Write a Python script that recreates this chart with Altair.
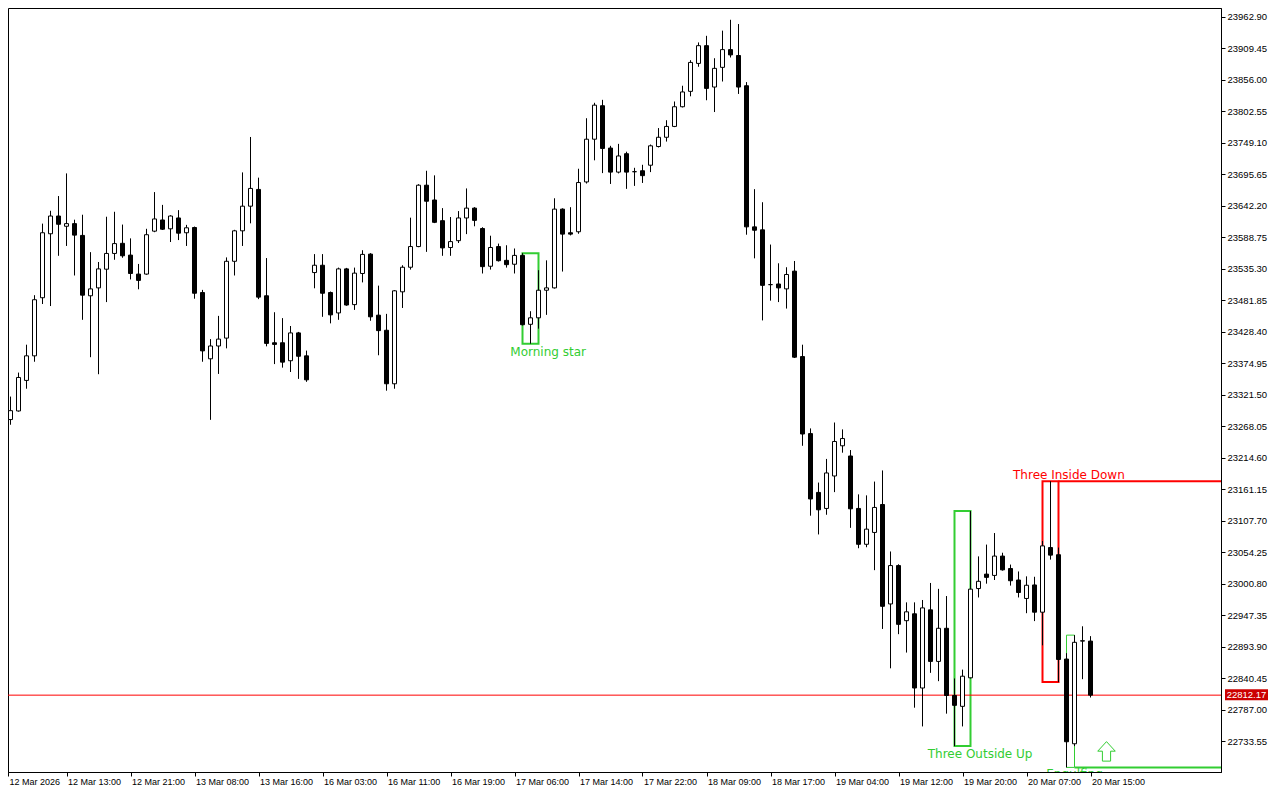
import altair as alt
import pandas as pd

# ---------------- data (hourly candles) ----------------
open_ = [23290.9, 23279.7, 23294.3, 23346.1, 23387.8, 23486.4, 23594.9, 23625.0, 23607.6, 23612.1,
         23592.1, 23489.7, 23503.1, 23534.8, 23561.5, 23578.7, 23558.7, 23526.5, 23526.5, 23599.3,
         23618.3, 23603.3, 23621.7, 23596.6, 23605.5, 23495.2, 23382.8, 23404.5, 23417.9, 23548.2,
         23599.9, 23641.7, 23670.1, 23489.7, 23410.0, 23410.0, 23379.5, 23426.7, 23387.8, 23529.1,
         23541.5, 23495.2, 23460.6, 23535.3, 23474.7, 23527.5, 23560.4, 23456.8, 23431.2, 23340.4,
         23496.4, 23538.1, 23573.2, 23677.3, 23652.2, 23617.1, 23571.6, 23583.2, 23621.7, 23638.4,
         23603.8, 23539.8, 23573.2, 23549.8, 23543.2, 23558.2, 23441.3, 23452.3, 23499.1, 23503.1,
         23636.7, 23596.6, 23598.3, 23682.8, 23755.3, 23812.1, 23740.3, 23699.5, 23730.7, 23700.2,
         23701.8, 23711.2, 23742.9, 23758.6, 23777.0, 23810.4, 23836.5, 23883.9, 23914.0, 23843.8,
         23877.2, 23907.3, 23897.3, 23846.0, 23606.6, 23601.6, 23508.6, 23509.7, 23501.4, 23531.5,
         23386.6, 23255.9, 23156.1, 23128.9, 23184.0, 23235.2, 23217.9, 23128.9, 23068.1, 23088.2,
         23135.6, 22966.9, 23032.0, 22938.5, 22950.2, 22824.3, 22956.9, 22869.4, 22925.6, 22811.6,
         22793.2, 22841.6, 22993.0, 23017.5, 23015.3, 23048.1, 23027.0, 23007.5, 22976.2, 22999.1,
         22952.9, 23062.6, 23050.4, 22873.4, 22729.7, 22903.9, 22903.9]
high_ = [23296.5, 23318.7, 23359.4, 23406.7, 23490.7, 23612.1, 23633.9, 23658.9, 23697.3, 23618.8,
         23627.2, 23563.7, 23547.0, 23623.8, 23632.2, 23610.5, 23587.1, 23543.7, 23603.3, 23665.6,
         23643.9, 23626.3, 23635.0, 23610.0, 23607.1, 23499.7, 23416.2, 23455.6, 23554.8, 23601.6,
         23699.0, 23759.1, 23690.1, 23553.7, 23461.8, 23451.8, 23438.4, 23428.4, 23396.7, 23560.4,
         23560.4, 23496.9, 23537.5, 23537.0, 23537.5, 23567.0, 23562.0, 23506.9, 23459.0, 23499.4,
         23541.5, 23622.2, 23679.0, 23701.8, 23694.0, 23638.4, 23623.3, 23633.4, 23671.8, 23640.0,
         23606.0, 23591.6, 23578.2, 23575.4, 23569.9, 23562.0, 23463.5, 23533.1, 23549.8, 23655.1,
         23638.0, 23640.0, 23705.2, 23790.9, 23817.1, 23822.1, 23744.1, 23747.4, 23734.1, 23706.8,
         23711.9, 23746.3, 23774.2, 23787.5, 23819.3, 23846.0, 23889.4, 23919.5, 23930.7, 23892.7,
         23939.5, 23957.9, 23950.7, 23852.2, 23670.6, 23648.4, 23576.6, 23544.8, 23538.1, 23548.7,
         23406.7, 23264.7, 23172.8, 23212.9, 23274.7, 23263.0, 23228.0, 23152.8, 23151.1, 23174.5,
         23193.4, 23055.9, 23034.2, 22969.6, 22969.6, 22973.6, 23002.5, 22992.5, 22980.3, 22840.5,
         22855.5, 23124.4, 23047.6, 23067.6, 23087.2, 23053.8, 23033.7, 23022.0, 23013.7, 23013.0,
         23073.8, 23175.0, 23062.6, 22883.4, 22914.0, 22929.0, 22912.3]
low_ = [23271.4, 23270.9, 23293.1, 23332.0, 23377.8, 23475.7, 23472.3, 23557.5, 23574.2, 23524.1,
        23448.9, 23385.5, 23356.6, 23479.0, 23550.8, 23554.2, 23517.4, 23500.7, 23525.3, 23597.6,
        23601.3, 23580.9, 23584.2, 23574.2, 23484.7, 23377.8, 23279.2, 23357.1, 23400.5, 23524.1,
        23574.2, 23612.6, 23484.0, 23403.9, 23373.8, 23367.8, 23360.4, 23348.7, 23343.7, 23502.4,
        23454.0, 23442.9, 23448.9, 23472.7, 23465.7, 23512.4, 23447.3, 23388.8, 23328.7, 23332.0,
        23469.0, 23534.1, 23572.1, 23564.2, 23613.0, 23557.5, 23557.5, 23579.2, 23594.3, 23607.6,
        23527.5, 23534.1, 23547.8, 23537.5, 23527.5, 23439.3, 23408.4, 23433.9, 23457.3, 23501.9,
        23530.8, 23592.1, 23594.9, 23680.1, 23719.5, 23697.8, 23679.4, 23697.3, 23671.1, 23676.1,
        23681.1, 23699.5, 23741.3, 23751.3, 23775.8, 23809.2, 23828.1, 23878.2, 23821.4, 23801.4,
        23853.2, 23893.9, 23832.1, 23593.3, 23553.2, 23447.9, 23481.4, 23479.0, 23468.0, 23384.1,
        23235.2, 23116.6, 23084.8, 23118.2, 23156.6, 23223.5, 23096.0, 23061.4, 23063.1, 23024.2,
        22924.5, 22857.7, 22915.6, 22884.4, 22790.9, 22759.1, 22850.0, 22835.9, 22780.8, 22725.7,
        22759.1, 22840.5, 22977.9, 23001.3, 23007.5, 23023.4, 22998.0, 22977.9, 22951.2, 22937.8,
        22896.7, 23042.1, 22834.3, 22689.6, 22725.7, 22839.3, 22808.2]
close_ = [23280.9, 23294.8, 23351.1, 23387.8, 23483.0, 23596.6, 23625.0, 23611.0, 23612.1, 23592.6,
          23490.7, 23501.4, 23535.3, 23561.5, 23578.2, 23557.5, 23527.5, 23515.8, 23593.3, 23620.0,
          23602.6, 23625.0, 23595.9, 23605.0, 23494.0, 23396.2, 23404.5, 23416.2, 23548.2, 23599.9,
          23641.7, 23671.8, 23487.4, 23408.9, 23407.2, 23377.1, 23426.7, 23387.1, 23347.1, 23541.5,
          23494.0, 23457.3, 23535.3, 23474.0, 23528.1, 23559.9, 23454.0, 23430.6, 23340.4, 23498.1,
          23538.1, 23573.2, 23677.3, 23650.1, 23614.3, 23570.9, 23581.6, 23621.7, 23638.4, 23617.6,
          23539.1, 23571.6, 23549.2, 23542.5, 23558.2, 23440.6, 23452.3, 23499.1, 23503.1, 23636.7,
          23594.3, 23594.3, 23681.8, 23755.3, 23813.1, 23739.6, 23699.5, 23726.9, 23699.5, 23700.2,
          23693.5, 23744.1, 23758.6, 23777.0, 23810.4, 23835.5, 23885.6, 23914.0, 23841.5, 23875.5,
          23907.3, 23898.3, 23843.8, 23606.6, 23600.9, 23507.4, 23508.6, 23503.1, 23525.8, 23385.5,
          23255.2, 23145.0, 23126.6, 23189.1, 23242.5, 23247.5, 23128.3, 23068.1, 23093.8, 23130.6,
          22962.9, 23032.0, 22932.3, 22953.5, 22824.3, 22960.2, 22869.4, 22925.6, 22811.6, 22794.9,
          22844.3, 22992.0, 23005.3, 23012.0, 23048.1, 23024.7, 23006.3, 22986.3, 22998.6, 22952.9,
          23065.4, 23049.7, 22872.7, 22733.1, 22901.8, 22904.5, 22812.17]
bar_index = list(range(len(open_)))

x_tick_idx = [0.6875, 8, 16, 24, 32, 40, 48, 56, 64, 72, 80, 88, 96, 104, 112, 120, 128, 136]
x_tick_labels = ["12 Mar 2026", "12 Mar 13:00", "12 Mar 21:00", "13 Mar 08:00", "13 Mar 16:00",
                 "16 Mar 03:00", "16 Mar 11:00", "16 Mar 19:00", "17 Mar 06:00", "17 Mar 14:00",
                 "17 Mar 22:00", "18 Mar 09:00", "18 Mar 17:00", "19 Mar 04:00", "19 Mar 12:00",
                 "19 Mar 20:00", "20 Mar 07:00", "20 Mar 15:00"]
y_ticks = [22733.55, 22787.00, 22840.45, 22893.90, 22947.35, 23000.80, 23054.25, 23107.70,
           23161.15, 23214.60, 23268.05, 23321.50, 23374.95, 23428.40, 23481.85, 23535.30,
           23588.75, 23642.20, 23695.65, 23749.10, 23802.55, 23856.00, 23909.45, 23962.90]
last_price = 22812.17

# candlestick patterns: box from start to end bar, top/bottom price
pat_name = ["Morning star", "Three Outside Up", "Three Inside Down", "Engulfing"]
pat_start = [65, 119, 130, 133]
pat_end = [67, 121, 132, 134]
pat_top = [23562.0, 23124.4, 23175.0, 22914.0]
pat_bottom = [23408.4, 22725.7, 22834.3, 22689.6]
pat_color = ["#32CD32", "#32CD32", "#FF0000", "#32CD32"]
pat_width = [2, 2, 2, 1]
pat_label_x = [68.2, 122.2, 133.3, 134.0]
pat_label_y = [23395.0, 22711.8, 23186.2, 22686.3]

# level lines extended to the right edge
lvl_start = [132, 134]
lvl_price = [23175.0, 22689.6]
lvl_color = ["#FF0000", "#32CD32"]

arrow_x = [138]
arrow_y = [22716.8]

# ---------------- chart ----------------
W, H = 1213, 764
X_DOM = [0.6875, 152.3125]
Y_DOM = [22681.8, 23977.9]
FONT_AX = "Liberation Sans"

xs = alt.Scale(domain=X_DOM, nice=False, zero=False, padding=0)
ys = alt.Scale(domain=Y_DOM, nice=False, zero=False, padding=0)

label_arr = "[" + ",".join("'" + s + "'" for s in x_tick_labels) + "]"
xax = alt.Axis(values=x_tick_idx, labelExpr=label_arr + "[round(datum.value/8)]", title=None,
               grid=False, tickSize=4, labelAlign="left", labelBaseline="top", labelPadding=1,
               labelOffset=1, labelFont=FONT_AX, labelFontSize=9, labelColor="black",
               tickColor="black", domainColor="black", labelOverlap=False, labelFlush=False)
yax = alt.Axis(orient="right", values=y_ticks, format=".2f", title=None, grid=False, tickSize=4,
               labelPadding=2, labelFont=FONT_AX, labelFontSize=9.5, labelColor="black",
               tickColor="black", domainColor="black", labelOverlap=False, labelFlush=False,
               labelAlign="left", labelBaseline="middle")


def X(f):
    return alt.X(f, type="quantitative", scale=xs, axis=xax)


def Y(f):
    return alt.Y(f, type="quantitative", scale=ys, axis=yax)


df = pd.DataFrame({"i": bar_index, "o": open_, "h": high_, "l": low_, "c": close_})

pat = pd.DataFrame({"name": pat_name, "x0": pat_start, "x1": pat_end, "top": pat_top,
                    "bot": pat_bottom, "col": pat_color, "sw": pat_width,
                    "lx": pat_label_x, "ly": pat_label_y})
lvl = pd.DataFrame({"x0": lvl_start, "x1": [X_DOM[1]] * len(lvl_start), "p": lvl_price,
                    "col": lvl_color})

boxes2 = alt.Chart(pat[pat.sw == 2]).mark_rect(fillOpacity=0, strokeWidth=2, clip=True).encode(
    x=X("x0"), x2="x1", y=Y("top"), y2="bot",
    stroke=alt.Stroke("col:N", scale=None))
boxes1 = alt.Chart(pat[pat.sw == 1]).mark_rect(fillOpacity=0, strokeWidth=1, clip=True).encode(
    x=X("x0"), x2="x1", y=Y("top"), y2="bot",
    stroke=alt.Stroke("col:N", scale=None))
levels = alt.Chart(lvl).mark_rule(strokeWidth=2, clip=True).encode(
    x=X("x0"), x2="x1", y=Y("p"), color=alt.Color("col:N", scale=None))

price_df = pd.DataFrame({"p": [last_price], "t": ["%.2f" % last_price]})
price_line = alt.Chart(price_df).mark_rule(color="#FF0000", strokeWidth=1).encode(y=Y("p"))

wicks = alt.Chart(df).mark_rule(color="black", strokeWidth=1, clip=True).encode(
    x=X("i"), y=Y("l"), y2="h")
bodies = alt.Chart(df).mark_bar(size=4, stroke="black", strokeWidth=1, clip=True).encode(
    x=X("i"), y=Y("o"), y2="c",
    fill=alt.condition("datum.c >= datum.o", alt.value("white"), alt.value("black")))

labels = alt.Chart(pat[pat.name != "Engulfing"]).mark_text(
    font="DejaVu Sans", fontSize=12, align="center", baseline="middle").encode(
    x=X("lx"), y=Y("ly"), text="name:N", color=alt.Color("col:N", scale=None))
eng_label = alt.Chart(pat[pat.name == "Engulfing"]).mark_text(
    font="DejaVu Sans", fontSize=12, align="center", baseline="top", clip=True).encode(
    x=X("lx"), y=Y("ly"), text="name:N", color=alt.Color("col:N", scale=None))

arrow_path = "M0,-1L0.9,-0.02L0.42,-0.02L0.42,1L-0.42,1L-0.42,-0.02L-0.9,-0.02Z"
arrow = alt.Chart(pd.DataFrame({"x": arrow_x, "y": arrow_y})).mark_point(
    shape=arrow_path, filled=False, stroke="#32CD32", strokeWidth=1, size=380, opacity=1).encode(
    x=X("x"), y=Y("y"))

price_box = alt.Chart(price_df).mark_rect(color="#CC0000", yOffset=-6, y2Offset=5).encode(
    x=alt.value(W + 4), x2=alt.value(W + 47), y=Y("p"), y2="p")
price_txt = alt.Chart(price_df).mark_text(
    font=FONT_AX, fontSize=9.5, color="white", align="center", baseline="middle").encode(
    x=alt.value(W + 25.5), y=Y("p"), text="t:N")

chart = alt.layer(
    boxes2, boxes1, levels, price_line, wicks, bodies, labels, eng_label, arrow,
    price_box, price_txt
).properties(
    width=W, height=H, background="white",
    padding={"left": 0, "top": 0, "right": 49, "bottom": 18},
    autosize=alt.AutoSizeParams(type="none", contains="content")
).configure_view(
    stroke="black", strokeWidth=1
)

chart.save("out.html", embed_options={"renderer": "svg", "actions": False})
